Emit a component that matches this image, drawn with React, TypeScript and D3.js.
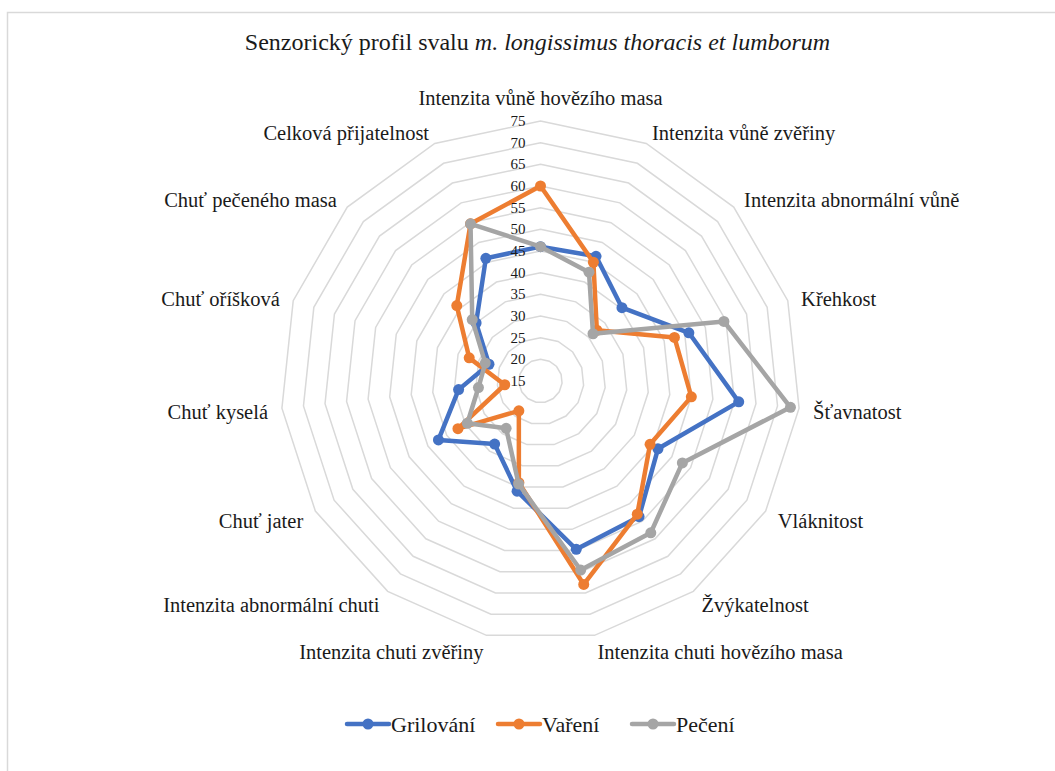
import * as d3 from "d3";

const categories = [
  "Intenzita vůně hovězího masa",
  "Intenzita vůně zvěřiny",
  "Intenzita abnormální vůně",
  "Křehkost",
  "Šťavnatost",
  "Vláknitost",
  "Žvýkatelnost",
  "Intenzita chuti hovězího masa",
  "Intenzita chuti zvěřiny",
  "Intenzita abnormální chuti",
  "Chuť jater",
  "Chuť kyselá",
  "Chuť oříšková",
  "Chuť pečeného masa",
  "Celková přijatelnost",
];

const grilovani = [46, 46.5, 40.3, 51, 61, 46.3, 53.7, 54.7, 41, 33, 42.2, 34, 27.5, 35, 46];
const vareni = [60, 45, 32.5, 47.5, 50, 44.2, 53, 63, 39, 23.5, 37, 23.3, 32.3, 41, 54.7];
const peceni = [46, 42.5, 31.3, 59.5, 73, 52.8, 58.3, 59.6, 39.3, 28.5, 34.5, 29.4, 28.4, 36.2, 54.7];

const seriesNames = ["Grilování", "Vaření", "Pečení"];
const seriesColors = ["#4472C4", "#ED7D31", "#A5A5A5"];
const ticks = [15, 20, 25, 30, 35, 40, 45, 50, 55, 60, 65, 70, 75];

const W = 1055;
const H = 771;
const FONT = '"Liberation Serif", "Times New Roman", "DejaVu Serif", serif';

export default function App() {
  const cx = 540.5;
  const cy = 381;
  const R = 260;

  const r = d3.scaleLinear().domain([15, 75]).range([0, R]);
  const angle = d3
    .scaleLinear()
    .domain([0, categories.length])
    .range([0, 2 * Math.PI]);

  const series = [grilovani, vareni, peceni];

  const ring = d3
    .lineRadial<number>()
    .angle((_, i) => angle(i))
    .radius((v) => r(v))
    .curve(d3.curveLinearClosed);

  const pos = (i: number, v: number) => {
    const a = angle(i);
    return [Math.sin(a) * r(v), -Math.cos(a) * r(v)];
  };

  // legend layout
  const legendX = [347, 498, 632];

  return (
    <svg
      width={W}
      height={H}
      style={{ position: "absolute", left: 0, top: 0, background: "#fff", fontFamily: FONT }}
    >
      <rect x={7.5} y={12.5} width={1100} height={800} fill="#fff" stroke="#d9d9d9" strokeWidth={1.5} />

      <text x={537.5} y={50} textAnchor="middle" fontSize={24} fill="#1a1a1a" style={{ fontFamily: FONT }}>
        Senzorický profil svalu <tspan fontStyle="italic">m. longissimus thoracis et lumborum</tspan>
      </text>

      <g transform={`translate(${cx},${cy})`}>
        {/* grid rings */}
        {ticks.slice(1).map((t) => (
          <path
            key={t}
            d={ring(categories.map(() => t)) ?? ""}
            fill="none"
            stroke="#d9d9d9"
            strokeWidth={1.5}
          />
        ))}

        {/* series */}
        {series.map((vals, s) => (
          <g key={s}>
            <path d={ring(vals) ?? ""} fill="none" stroke={seriesColors[s]} strokeWidth={4.5} strokeLinejoin="round" />
            {vals.map((v, i) => {
              const [x, y] = pos(i, v);
              return <circle key={i} cx={x} cy={y} r={5.5} fill={seriesColors[s]} />;
            })}
          </g>
        ))}

        {/* tick labels */}
        {ticks.map((t) => (
          <text
            key={t}
            x={-15}
            y={-r(t)}
            textAnchor="end"
            dominantBaseline="central"
            fontSize={15}
            fill="#1a1a1a"
            style={{ fontFamily: FONT }}
          >
            {t}
          </text>
        ))}

        {/* category labels */}
        {categories.map((c, i) => {
          const a = angle(i);
          const dx = Math.sin(a);
          const dy = -Math.cos(a);
          const d = R + 14;
          const anchor = Math.abs(dx) < 0.01 ? "middle" : dx > 0 ? "start" : "end";
          const shift = Math.abs(dx) < 0.01 ? (dy < 0 ? -9 : 9) : 2.5;
          return (
            <text
              key={c}
              x={dx * d}
              y={dy * d + shift}
              textAnchor={anchor}
              dominantBaseline="central"
              fontSize={20.5}
              fill="#1a1a1a"
              style={{ fontFamily: FONT }}
            >
              {c}
            </text>
          );
        })}
      </g>

      {/* legend */}
      {seriesNames.map((n, s) => (
        <g key={n} transform={`translate(${legendX[s]},724)`}>
          <line x1={0} x2={42} y1={0} y2={0} stroke={seriesColors[s]} strokeWidth={4.5} strokeLinecap="round" />
          <circle cx={21} cy={0} r={5.5} fill={seriesColors[s]} />
          <text x={44} y={8} fontSize={22} fill="#1a1a1a" style={{ fontFamily: FONT }}>
            {n}
          </text>
        </g>
      ))}
    </svg>
  );
}
